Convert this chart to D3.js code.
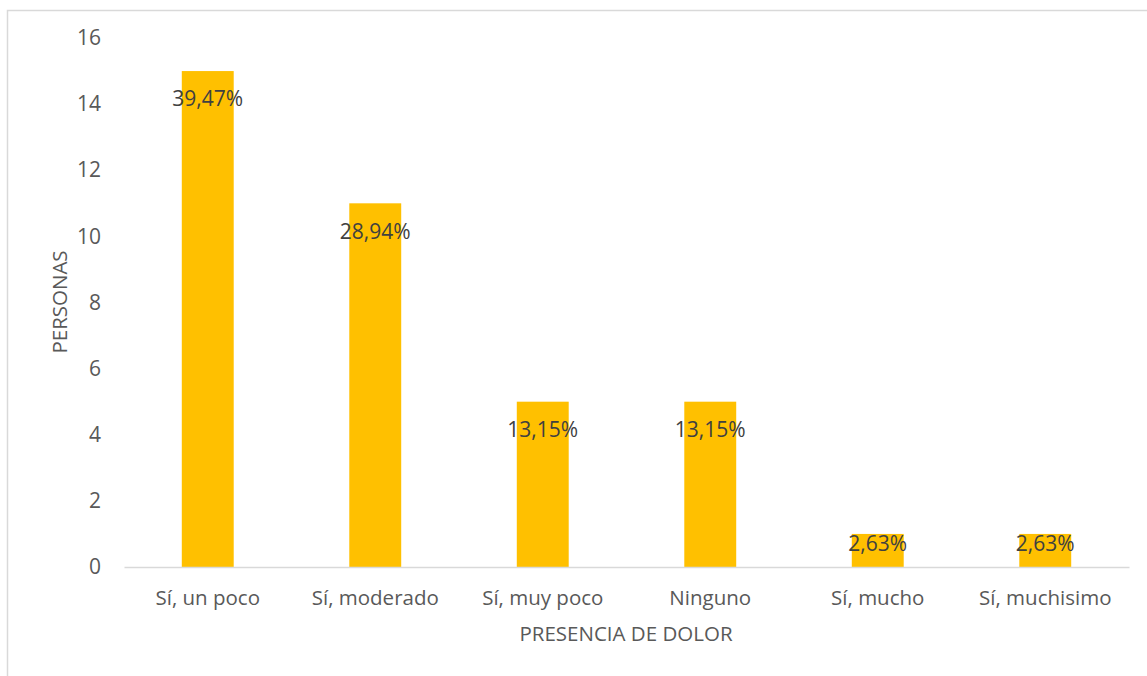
<!DOCTYPE html>
<html>
<head>
<meta charset="utf-8">
<script src="https://cdn.jsdelivr.net/npm/d3@7"></script>
<style>
  body { margin: 0; background: #fff; }
  text { font-family: "Open Sans", "Noto Sans", sans-serif; }
</style>
</head>
<body>
<div id="chart"></div>
<script>
        var categories = ["Sí, un poco", "Sí, moderado", "Sí, muy poco", "Ninguno", "Sí, mucho", "Sí, muchisimo"];
        var personas = [15, 11, 5, 5, 1, 1];
        var percentLabels = ["39,47%", "28,94%", "13,15%", "13,15%", "2,63%", "2,63%"];
        var yTicks = [0, 2, 4, 6, 8, 10, 12, 14, 16];

        var width = 1147,
            height = 676,
            fontSize = "20.5px",
            numSize = "21px";

        var svg = d3.select("#chart").append("svg")
            .attr("width", width)
            .attr("height", height);

        // chart area border
        svg.append("rect")
            .attr("x", 7.5)
            .attr("y", 10.5)
            .attr("width", 1160)
            .attr("height", 700)
            .attr("fill", "#fff")
            .attr("stroke", "#d9d9d9")
            .attr("stroke-width", 1.5);

        var x = d3.scaleBand()
            .domain(categories)
            .range([124, 1129])
            .paddingInner(0.69)
            .paddingOuter(0.345);

        var y = d3.scaleLinear()
            .domain([0, 16])
            .range([567, 38]);

        // y tick labels (no axis line in the original)
        var yAxis = d3.axisLeft(y)
            .tickValues(yTicks)
            .tickSize(0)
            .tickPadding(0);

        var gy = svg.append("g")
            .attr("transform", "translate(101,0)")
            .call(yAxis);
        gy.select(".domain").remove();
        gy.selectAll("text")
            .attr("fill", "#595959")
            .style("font-size", numSize)
            .style("font-family", "'Open Sans', sans-serif");

        svg.selectAll(".bar")
            .data(personas)
            .enter().append("rect")
            .attr("class", "bar")
            .attr("x", function (d, i) {
                return x(categories[i]);
            })
            .attr("width", x.bandwidth())
            .attr("y", function (d) {
                return y(d);
            })
            .attr("height", function (d) {
                return y(0) - y(d);
            })
            .attr("fill", "#ffc000");

        // x axis
        var xAxis = d3.axisBottom(x).tickSize(0).tickPadding(23);
        var gx = svg.append("g")
            .attr("transform", "translate(0," + y(0) + ")")
            .call(xAxis);
        gx.select(".domain")
            .attr("stroke", "#d9d9d9")
            .attr("stroke-width", 1.5);
        gx.selectAll("text")
            .attr("fill", "#595959")
            .style("font-size", fontSize)
            .style("font-family", "'Open Sans', sans-serif");

        // percentage labels, inside end
        svg.selectAll(".pct")
            .data(personas)
            .enter().append("text")
            .attr("class", "pct")
            .attr("x", function (d, i) {
                return x(categories[i]) + x.bandwidth() / 2;
            })
            .attr("y", function (d) {
                var h = y(0) - y(d);
                return y(d) + Math.min(28, h / 2 - 7);
            })
            .attr("dy", "0.35em")
            .attr("text-anchor", "middle")
            .attr("fill", "#404040")
            .style("font-size", numSize)
            .text(function (d, i) {
                return percentLabels[i];
            });

        // axis titles
        svg.append("text")
            .attr("transform", "translate(60,302) rotate(-90)")
            .attr("text-anchor", "middle")
            .attr("dy", "0.35em")
            .attr("fill", "#595959")
            .style("font-size", fontSize)
            .text("PERSONAS");

        svg.append("text")
            .attr("x", 626)
            .attr("y", 634)
            .attr("text-anchor", "middle")
            .attr("dy", "0.35em")
            .attr("fill", "#595959")
            .style("font-size", fontSize)
            .text("PRESENCIA DE DOLOR");
</script>
</body>
</html>
